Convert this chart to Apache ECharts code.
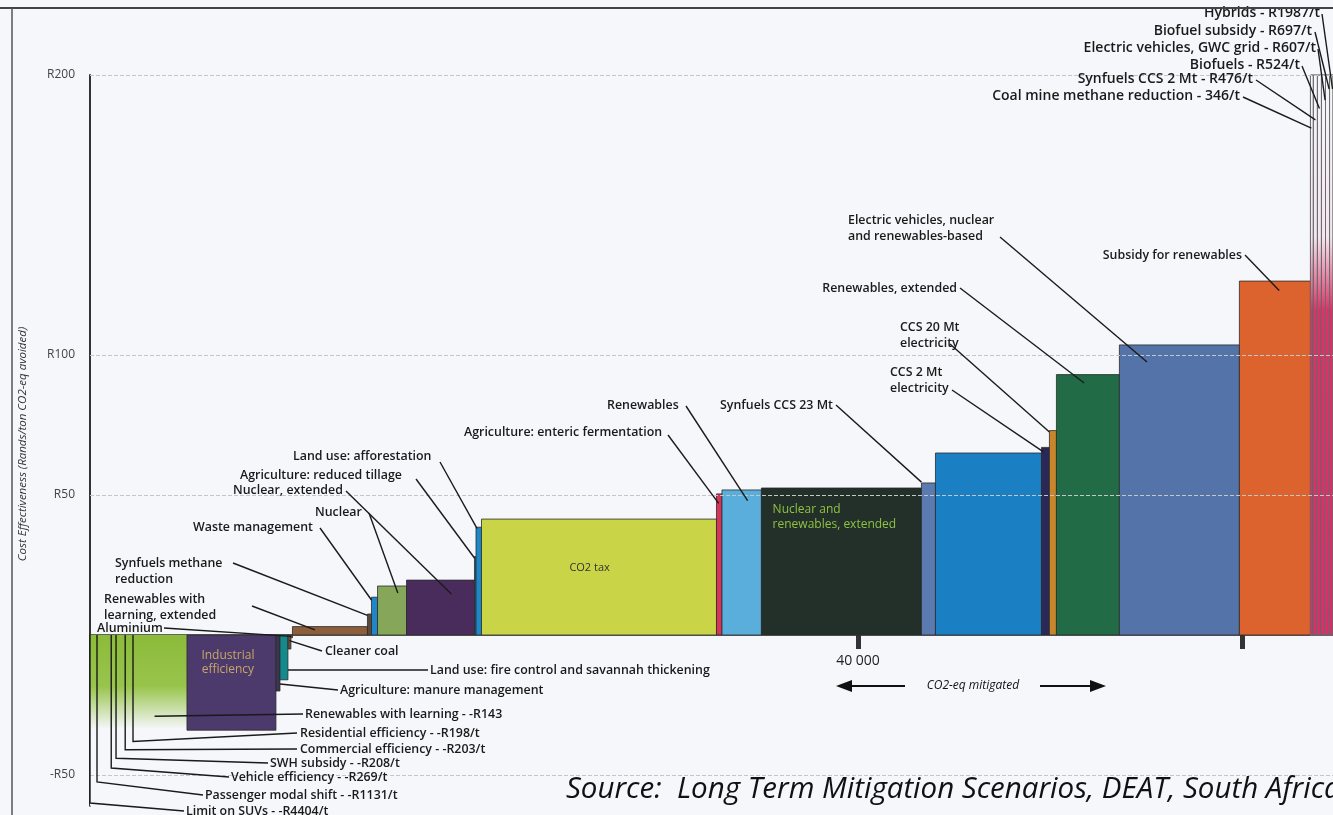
<!DOCTYPE html>
<html>
<head>
<meta charset="utf-8">
<script src="https://cdn.jsdelivr.net/npm/echarts@6/dist/echarts.min.js"></script>
<style>
  html, body { margin: 0; padding: 0; background: #f5f7fa; }
  #chart { width: 1333px; height: 815px; }
</style>
</head>
<body>
<div id="chart"></div>
<script>
// measures, in order of cost (R per ton CO2-eq)
const measures = [
  'Limit on SUVs', 'Passenger modal shift', 'Vehicle efficiency', 'SWH subsidy',
  'Commercial efficiency', 'Residential efficiency', 'Renewables with learning',
  'Industrial efficiency', 'Agriculture: manure management',
  'Land use: fire control and savannah thickening', 'Cleaner coal', 'Aluminium',
  'Renewables with learning, extended', 'Synfuels methane reduction', 'Waste management',
  'Nuclear', 'Nuclear, extended', 'Agriculture: reduced tillage', 'Land use: afforestation',
  'CO2 tax', 'Agriculture: enteric fermentation', 'Renewables',
  'Nuclear and renewables, extended', 'Synfuels CCS 23 Mt', 'CCS electricity',
  'CCS 2 Mt electricity', 'CCS 20 Mt electricity', 'Renewables, extended',
  'Electric vehicles, nuclear and renewables-based', 'Subsidy for renewables',
  'Coal mine methane reduction', 'Synfuels CCS 2 Mt', 'Biofuels',
  'Electric vehicles, GWC grid', 'Biofuel subsidy', 'Hybrids'
];
// cumulative-curve widths, Mt CO2-eq mitigated
const mitigation = [
  365, 365, 470, 260, 415, 365, 2810,
  4635, 210, 415, 155, 80,
  3905, 210, 315, 1510, 3540, 80, 285,
  12240, 285, 2055, 8335, 730, 5520,
  415, 365, 3280, 6250, 3700,
  155, 210, 210, 210, 210, 310
];
// cost effectiveness, Rands / ton CO2-eq avoided
const costs = [
  -4404, -1131, -269, -208, -203, -198, -143,
  -34, -20, -16, -5, -1,
  3, 7.5, 13.5, 17.5, 19.6, 28, 38.5,
  41.4, 50.4, 51.8, 52.5, 54.3, 65,
  67, 73, 93, 103.6, 126.4,
  346, 476, 524, 607, 697, 1987
];
const yTicks = [-50, 50, 100, 200];
const xTicks = [40000, 60000];
const xTickLabels = ['40 000'];

const starts = [];
let acc = 0;
mitigation.forEach(w => { starts.push(acc); acc += w; });

const BG = '#f5f7fa';
const greenFade = new echarts.graphic.LinearGradient(0, 0, 0, 1, [
  { offset: 0, color: '#8cbb3a' }, { offset: 0.3, color: '#98c44c' },
  { offset: 0.55, color: BG }, { offset: 1, color: BG }
]);
const pinkFade = new echarts.graphic.LinearGradient(0, 0, 0, 1, [
  { offset: 0, color: BG }, { offset: 0.29, color: '#f3e6ee' },
  { offset: 0.42, color: '#d83468' }, { offset: 1, color: '#d5306a' }
]);
const barColors = [
  greenFade, greenFade, greenFade, greenFade, greenFade, greenFade, greenFade,
  '#4b3a6b', '#3b3550', '#138a8c', '#6b4a3a', '#555555',
  '#8c5e3c', '#5b4a3c', '#1f86c8', '#86a65a', '#4a2c5c', '#1f6fa8', '#1f86c8',
  '#c9d447', '#d8345a', '#5aaedc', '#223029', '#5a7ab0', '#1b7fc4',
  '#2a2858', '#c8862c', '#216b46', '#5473a8', '#dc622e',
  pinkFade, pinkFade, pinkFade, pinkFade, pinkFade, pinkFade
];

const chart = echarts.init(document.getElementById('chart'));

const option = {
  backgroundColor: BG,
  animation: false,
  grid: { left: 90, right: 0, top: 75, height: 730.8, containLabel: false, outerBoundsMode: 'none' },
  xAxis: {
    type: 'value',
    min: 0,
    max: 64740,
    axisLine: { onZero: true, lineStyle: { color: '#333', width: 1.5 } },
    axisTick: { customValues: xTicks, length: 14, lineStyle: { color: '#333', width: 5 } },
    axisLabel: { show: false },
    splitLine: { show: false }
  },
  yAxis: {
    type: 'value',
    min: -61,
    max: 200,
    axisLine: { show: true, onZero: false, lineStyle: { color: '#333', width: 2 } },
    axisTick: { show: false },
    axisLabel: {
      customValues: yTicks,
      formatter: v => (v < 0 ? '-R' + (-v) : 'R' + v),
      margin: 15, fontSize: 12, fontFamily: 'Open Sans', color: '#444'
    },
    splitLine: { show: false }
  },
  series: [
    {
      type: 'line',
      data: [],
      z: 1,
      silent: true,
      markLine: {
        silent: true,
        symbol: 'none',
        label: { show: false },
        lineStyle: { type: 'dashed', color: '#c4c6ca', width: 1 },
        data: yTicks.map(v => ({ yAxis: v }))
      }
    },
    {
      type: 'custom',
      z: 3,
      data: measures.map((m, i) => [starts[i], starts[i] + mitigation[i], costs[i], i]),
      encode: { x: [0, 1], y: 2 },
      renderItem: (params, api) => {
        const x0 = api.value(0), x1 = api.value(1), v = api.value(2), i = api.value(3);
        const pTop = api.coord([x0, v]);
        const pZero = api.coord([x1, 0]);
        const rect = echarts.graphic.clipRectByRect({
          x: pTop[0],
          y: Math.min(pTop[1], pZero[1]),
          width: pZero[0] - pTop[0],
          height: Math.abs(pZero[1] - pTop[1])
        }, {
          x: params.coordSys.x, y: params.coordSys.y,
          width: params.coordSys.width, height: params.coordSys.height
        });
        if (!rect) return;
        const fill = barColors[i];
        const style = { fill: fill };
        if (fill === pinkFade) { style.stroke = '#6a6a6a'; style.lineWidth = 0.8; }
        else if (fill !== greenFade) { style.stroke = '#2b2b2b'; style.lineWidth = 0.8; }
        return { type: 'rect', shape: rect, style: style };
      }
    }
  ]
};
chart.setOption(option);

// leader labels: bar index, label text, text anchor, line start, target (fraction across bar, value)
const notes = [
  { i: 35, t: 'Hybrids - R1987/t', x: 1320, y: 13, a: 'right', s: [1322, 14], f: 0.5, v: 195, big: true },
  { i: 34, t: 'Biofuel subsidy - R697/t', x: 1312, y: 31, a: 'right', s: [1315, 32], f: 0.9, v: 195, big: true },
  { i: 33, t: 'Electric vehicles, GWC grid - R607/t', x: 1316, y: 48, a: 'right', s: [1318, 49], f: 0.9, v: 191, big: true },
  { i: 32, t: 'Biofuels - R524/t', x: 1300, y: 65, a: 'right', s: [1302, 66], f: 0.5, v: 188, big: true },
  { i: 31, t: 'Synfuels CCS 2 Mt - R476/t', x: 1253, y: 79, a: 'right', s: [1256, 80], f: 0.5, v: 184, big: true },
  { i: 30, t: 'Coal mine methane reduction - 346/t', x: 1240, y: 96, a: 'right', s: [1243, 97], f: 0.3, v: 181, big: true },
  { i: 28, t: 'Electric vehicles, nuclear\nand renewables-based', x: 848, y: 228, a: 'left', s: [1000, 237], f: 0.23, v: 97.5 },
  { i: 29, t: 'Subsidy for renewables', x: 1242, y: 255, a: 'right', s: [1245, 255], f: 0.56, v: 123 },
  { i: 27, t: 'Renewables, extended', x: 957, y: 288, a: 'right', s: [960, 288], f: 0.44, v: 90 },
  { i: 26, t: 'CCS 20 Mt\nelectricity', x: 900, y: 335, a: 'left', s: [950, 344], f: 0, v: 72.5 },
  { i: 25, t: 'CCS 2 Mt\nelectricity', x: 890, y: 380, a: 'left', s: [952, 390], f: 0.2, v: 65.5 },
  { i: 23, t: 'Synfuels CCS 23 Mt', x: 720, y: 405, a: 'left', s: [836, 405], f: 0, v: 54.6 },
  { i: 21, t: 'Renewables', x: 607, y: 405, a: 'left', s: [686, 406], f: 0.65, v: 48 },
  { i: 20, t: 'Agriculture: enteric fermentation', x: 464, y: 432, a: 'left', s: [668, 435], f: 0.4, v: 47 },
  { i: 18, t: 'Land use: afforestation', x: 293, y: 456, a: 'left', s: [440, 462], f: 0.2, v: 38 },
  { i: 17, t: 'Agriculture: reduced tillage', x: 240, y: 475, a: 'left', s: [416, 479], f: 0, v: 27.5 },
  { i: 16, t: 'Nuclear, extended', x: 233, y: 490, a: 'left', s: [346, 491], f: 0.66, v: 14.6 },
  { i: 15, t: 'Nuclear', x: 315, y: 512, a: 'left', s: [369, 513], f: 0.7, v: 15 },
  { i: 14, t: 'Waste management', x: 193, y: 527, a: 'left', s: [320, 528], f: 0, v: 12.5 },
  { i: 13, t: 'Synfuels methane\nreduction', x: 115, y: 571, a: 'left', s: [233, 563], f: 0, v: 7 },
  { i: 12, t: 'Renewables with\nlearning, extended', x: 104, y: 607, a: 'left', s: [252, 606], f: 0.3, v: 1.8 },
  { i: 11, t: 'Aluminium', x: 97, y: 628, a: 'left', s: [164, 628], f: 0, v: -0.5 },
  { i: 10, t: 'Cleaner coal', x: 325, y: 651, a: 'left', s: [322, 651], f: 0.5, v: -2 },
  { i: 9, t: 'Land use: fire control and savannah thickening', x: 430, y: 670, a: 'left', s: [428, 670], f: 1, v: -12.5 },
  { i: 8, t: 'Agriculture: manure management', x: 340, y: 690, a: 'left', s: [338, 690], f: 1, v: -17.5 },
  { i: 6, t: 'Renewables with learning - -R143', x: 305, y: 714, a: 'left', s: [303, 714], f: 0.4, v: -29 },
  { i: 5, t: 'Residential efficiency - -R198/t', x: 300, y: 733, a: 'left', s: [297, 733], f: 1, v: -38, drop: true },
  { i: 4, t: 'Commercial efficiency - -R203/t', x: 300, y: 749, a: 'left', s: [297, 749], f: 0.9, v: -41, drop: true },
  { i: 3, t: 'SWH subsidy - -R208/t', x: 270, y: 763, a: 'left', s: [268, 763], f: 0.6, v: -44, drop: true },
  { i: 2, t: 'Vehicle efficiency - -R269/t', x: 231, y: 777, a: 'left', s: [229, 777], f: 0.8, v: -47.5, drop: true },
  { i: 1, t: 'Passenger modal shift - -R1131/t', x: 205, y: 795, a: 'left', s: [203, 795], f: 0, v: -52.5, drop: true },
  { i: 0, t: 'Limit on SUVs - -R4404/t', x: 186, y: 811, a: 'left', s: [184, 811], f: 0, v: -60, drop: true }
];

const toPx = (x, y) => chart.convertToPixel({ gridIndex: 0 }, [x, y]);
const graphics = [];
const INK = '#1a1a1a';

notes.forEach(n => {
  const bx = starts[n.i] + n.f * mitigation[n.i];
  const end = toPx(bx, n.v);
  const pts = [n.s, end];
  if (n.drop) pts.push(toPx(bx, 0));
  graphics.push({
    type: 'polyline', z: 20, silent: true,
    shape: { points: pts },
    style: { stroke: INK, lineWidth: 1.4, fill: null }
  });
  graphics.push({
    type: 'text', z: 21, silent: true,
    style: {
      text: n.t, x: n.x, y: n.y, align: n.a, verticalAlign: 'middle',
      fill: INK, fontSize: n.big ? 14 : 12.4, fontWeight: 600, fontFamily: 'Open Sans',
      lineHeight: 16
    }
  });
});

// x tick label
const xl = toPx(xTicks[0], 0);
graphics.push({
  type: 'text', z: 21, silent: true,
  style: { text: xTickLabels[0], x: xl[0], y: xl[1] + 26, align: 'center', verticalAlign: 'middle',
    fill: '#222', fontSize: 14, fontFamily: 'Open Sans' }
});

// text inside bars
const inBar = (i, frac, val) => toPx(starts[i] + frac * mitigation[i], val);
const indPos = inBar(7, 0.46, -10);
graphics.push({
  type: 'text', z: 21, silent: true,
  style: { text: 'Industrial\nefficiency', x: indPos[0], y: indPos[1], align: 'center', verticalAlign: 'middle',
    fill: '#c9a668', fontSize: 12, fontFamily: 'Open Sans', lineHeight: 14 }
});
const taxPos = inBar(19, 0.46, 24);
graphics.push({
  type: 'text', z: 21, silent: true,
  style: { text: 'CO2 tax', x: taxPos[0], y: taxPos[1], align: 'center', verticalAlign: 'middle',
    fill: '#333', fontSize: 11, fontFamily: 'Open Sans' }
});
const nrPos = inBar(22, 0.07, 42);
graphics.push({
  type: 'text', z: 21, silent: true,
  style: { text: 'Nuclear and\nrenewables, extended', x: nrPos[0], y: nrPos[1], align: 'left', verticalAlign: 'middle',
    fill: '#8fc043', fontSize: 12, fontFamily: 'Open Sans', lineHeight: 15 }
});

// y axis title
graphics.push({
  type: 'text', z: 21, silent: true, x: 23, y: 444, rotation: Math.PI / 2,
  style: { text: 'Cost Effectiveness (Rands/ton CO2-eq avoided)', align: 'center', verticalAlign: 'middle',
    fill: '#333', fontSize: 11.5, fontStyle: 'italic', fontFamily: 'Open Sans' }
});

// direction arrows under the axis
graphics.push(
  { type: 'polyline', z: 20, shape: { points: [[905, 686], [848, 686]] }, style: { stroke: '#111', lineWidth: 2, fill: null } },
  { type: 'polygon', z: 20, shape: { points: [[836, 686], [852, 680], [852, 692]] }, style: { fill: '#111' } },
  { type: 'polyline', z: 20, shape: { points: [[1040, 686], [1094, 686]] }, style: { stroke: '#111', lineWidth: 2, fill: null } },
  { type: 'polygon', z: 20, shape: { points: [[1106, 686], [1090, 680], [1090, 692]] }, style: { fill: '#111' } },
  { type: 'text', z: 21, style: { text: 'CO2-eq mitigated', x: 973, y: 686, align: 'center', verticalAlign: 'middle',
    fill: '#111', fontSize: 12, fontStyle: 'italic', fontFamily: 'Open Sans' } }
);

// source note
graphics.push({
  type: 'text', z: 21, silent: true,
  style: { text: 'Source:  Long Term Mitigation Scenarios, DEAT, South Africa', x: 566, y: 790,
    align: 'left', verticalAlign: 'middle', fill: '#111', fontSize: 29.5, fontStyle: 'italic', fontFamily: 'Open Sans' }
});

// page frame from the scanned figure
graphics.push(
  { type: 'line', z: 22, shape: { x1: 0, y1: 8, x2: 1333, y2: 8 }, style: { stroke: '#444', lineWidth: 2 } },
  { type: 'line', z: 22, shape: { x1: 12, y1: 8, x2: 12, y2: 815 }, style: { stroke: '#555', lineWidth: 1.5 } }
);

chart.setOption({ graphic: graphics });
</script>
</body>
</html>
